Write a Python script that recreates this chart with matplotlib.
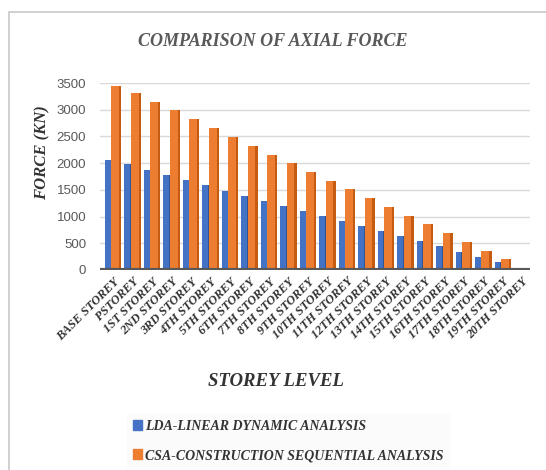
import matplotlib.pyplot as plt
import numpy as np
from matplotlib.patches import Rectangle

# storey levels and axial forces (kN)
storeys = ["BASE STOREY", "PSTOREY", "1ST STOREY", "2ND STOREY", "3RD STOREY",
           "4TH STOREY", "5TH STOREY", "6TH STOREY", "7TH STOREY", "8TH STOREY",
           "9TH STOREY", "10TH STOREY", "11TH STOREY", "12TH STOREY", "13TH STOREY",
           "14TH STOREY", "15TH STOREY", "16TH STOREY", "17TH STOREY", "18TH STOREY",
           "19TH STOREY", "20TH STOREY"]
lda = [2050, 1980, 1880, 1780, 1680, 1585, 1485, 1390, 1290, 1200, 1105,
       1010, 915, 820, 725, 630, 535, 440, 345, 250, 155, 0]
csa = [3450, 3310, 3150, 2990, 2820, 2650, 2490, 2320, 2155, 1995, 1835,
       1670, 1510, 1350, 1185, 1020, 855, 700, 530, 360, 200, 0]

serif = "Liberation Serif"

fig = plt.figure(figsize=(5.46, 4.70), dpi=100)
# light frame of the chart area
fig.patches.append(Rectangle((9 / 546, -0.05), 1.1, 1 - 12 / 470 + 0.05,
                             transform=fig.transFigure, fill=False,
                             edgecolor="#c8c8c8", lw=1.2))

ax = fig.add_axes([100 / 546, 1 - 270 / 470, 430 / 546, 187 / 470])
x = np.arange(len(storeys))

# blue bars (behind) with a darker side strip
ax.bar(x - 0.22, lda, 0.40, color="#4472C4", zorder=2)
ax.bar(x - 0.07, lda, 0.10, color="#2F5597", zorder=2)
# orange bars (front) with a darker side strip
ax.bar(x + 0.17, csa, 0.52, color="#ED7D31", zorder=3)
ax.bar(x + 0.37, csa, 0.12, color="#C55A11", zorder=3)

ax.set_xlim(-0.67, 21.4)
ax.set_ylim(0, 3500)
ax.set_yticks(np.arange(0, 3501, 500))
ax.grid(axis="y", color="#d9d9d9", lw=1, zorder=0)
ax.axhline(0, color="#595959", lw=3, zorder=4)
for s in ax.spines.values():
    s.set_visible(False)
ax.tick_params(length=0)
ax.tick_params(axis="y", pad=10, labelsize=9.5, labelcolor="#595959")
for t in ax.get_yticklabels():
    t.set_family("Liberation Sans")

ax.set_xticks(x)
ax.set_xticklabels(storeys, rotation=45, ha="right", rotation_mode="anchor",
                   family=serif, fontweight="bold", fontstyle="italic",
                   fontsize=9, color="#333333")
ax.tick_params(axis="x", pad=4)

fig.text(0.5, 1 - 42 / 470, "COMPARISON OF AXIAL FORCE", ha="center",
         va="center", family=serif, fontweight="bold", fontstyle="italic",
         fontsize=13, color="#595959")
fig.text(42 / 546, 1 - 153 / 470, "FORCE (KN)", rotation=90, ha="center",
         va="center", family=serif, fontweight="bold", fontstyle="italic",
         fontsize=12, color="#333333")
fig.text(276 / 546, 1 - 381 / 470, "STOREY LEVEL", ha="center", va="center",
         family=serif, fontweight="bold", fontstyle="italic", fontsize=13.5,
         color="#333333")

h1 = Rectangle((0, 0), 1, 1, color="#4472C4")
h2 = Rectangle((0, 0), 1, 1, color="#ED7D31")
leg = fig.legend([h1, h2], ["LDA-LINEAR DYNAMIC ANALYSIS",
                            "CSA-CONSTRUCTION SEQUENTIAL ANALYSIS"],
                 loc="upper left", bbox_to_anchor=(120 / 546, 1 - 407 / 470),
                 frameon=True, facecolor="#fbfbfb", edgecolor="#fbfbfb",
                 handlelength=0.7, handleheight=0.7, handletextpad=0.2,
                 labelspacing=1.2, borderpad=0.4, fancybox=False,
                 prop={"family": serif, "weight": "bold", "style": "italic",
                       "size": 10})
for t in leg.get_texts():
    t.set_color("#333333")

fig.savefig("out.png", dpi=100)
